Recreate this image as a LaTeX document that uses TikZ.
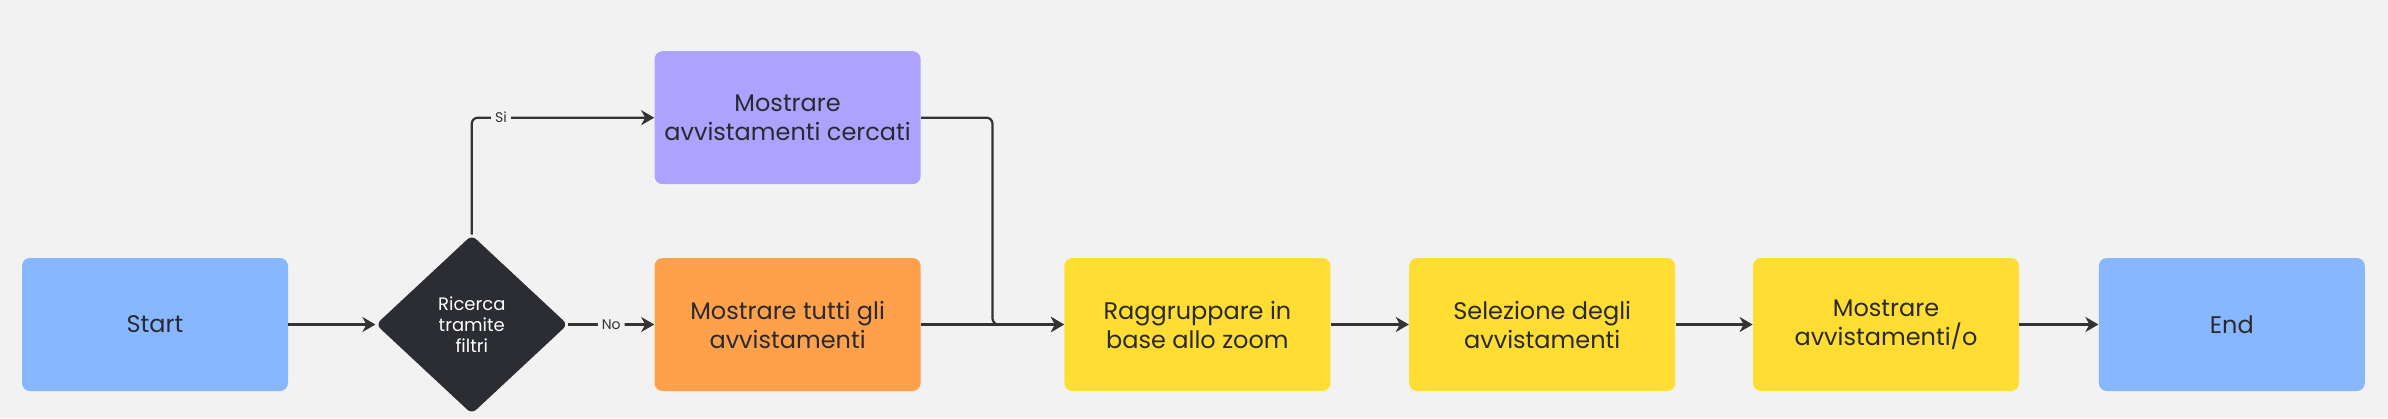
\documentclass[tikz,border=0pt]{standalone}
\usepackage{fontspec}
\setmainfont{Poppins}
\usetikzlibrary{positioning, arrows.meta, shapes.geometric, calc}

\definecolor{bgcol}{HTML}{F2F2F2}
\definecolor{startblue}{HTML}{87B8FF}
\definecolor{searchviolet}{HTML}{ADA3FF}
\definecolor{allorange}{HTML}{FFA14B}
\definecolor{stepyellow}{HTML}{FFDD33}
\definecolor{decisiondark}{HTML}{2B2D33}
\definecolor{linegray}{HTML}{333333}
\definecolor{textdark}{HTML}{2A2A2E}

\begin{document}
\begin{tikzpicture}
            [x=0.5pt, y=-0.5pt,
            node distance=43.5pt,
            block/.style={
                rectangle,
                rounded corners=4pt,
                fill=stepyellow,
                text=textdark,
                align=center,
                inner sep=0pt,
                minimum height=66.5pt,
                minimum width=133pt,
                font=\fontsize{12}{14.5}\selectfont
            },
            decision/.style={
                diamond,
                rounded corners=3pt,
                fill=decisiondark,
                text=white,
                align=center,
                inner sep=0pt,
                minimum width=96pt,
                minimum height=89.5pt,
                font=\fontsize{9}{10.5}\selectfont
            },
            line/.style={
                draw=linegray, line width=1.1pt, rounded corners=3pt,
                -{Stealth[length=6.5pt, width=7.5pt, inset=2pt]}
            },
            answer/.style={
                fill=bgcol, text=linegray, inner sep=2pt,
                font=\fontsize{7}{8}\selectfont
            },
            startend/.style={block, fill=startblue},
            violetbox/.style={block, fill=searchviolet},
            orangebox/.style={block, fill=allorange},
            yellowbox/.style={block, fill=stepyellow}
            ]

            \fill[bgcol] (0,0) rectangle (2388,418);
            \useasboundingbox (0,0) rectangle (2388,418);

            % Start and decision
            \node[startend] (start) at (155,324.5) {Start};
            \node[decision, right=of start] (filter) {Ricerca\\tramite\\filtri};

            % the two branches
            \node[orangebox, right=43pt of filter] (tutti) {Mostrare tutti gli\\avvistamenti};
            \node[violetbox, above=36.5pt of tutti] (cercati) {Mostrare\\avvistamenti cercati};

            % common chain
            \node[yellowbox, right=71.5pt of tutti] (raggr) {Raggruppare in\\base allo zoom};
            \node[yellowbox, right=39pt of raggr] (selez) {Selezione degli\\avvistamenti};
            \node[yellowbox, right=38.5pt of selez] (mostra) {Mostrare\\avvistamenti/o};
            \node[startend, right=39.5pt of mostra] (finish) {End};

            \path [line] (filter.north) |- node[answer, pos=0.58] {Si} (cercati.west);
            \path [line] (filter.east) -- node[answer] {No} (tutti.west);

            \coordinate (merge) at ($(tutti.east)!.5!(raggr.west)$);
            \path [line] (cercati.east) -| (merge) -- (raggr.west);

            \foreach \from/\to in {start/filter, tutti/raggr, raggr/selez, selez/mostra, mostra/finish}{
                \path [line] (\from) -- (\to);
            }
\end{tikzpicture}
\end{document}
